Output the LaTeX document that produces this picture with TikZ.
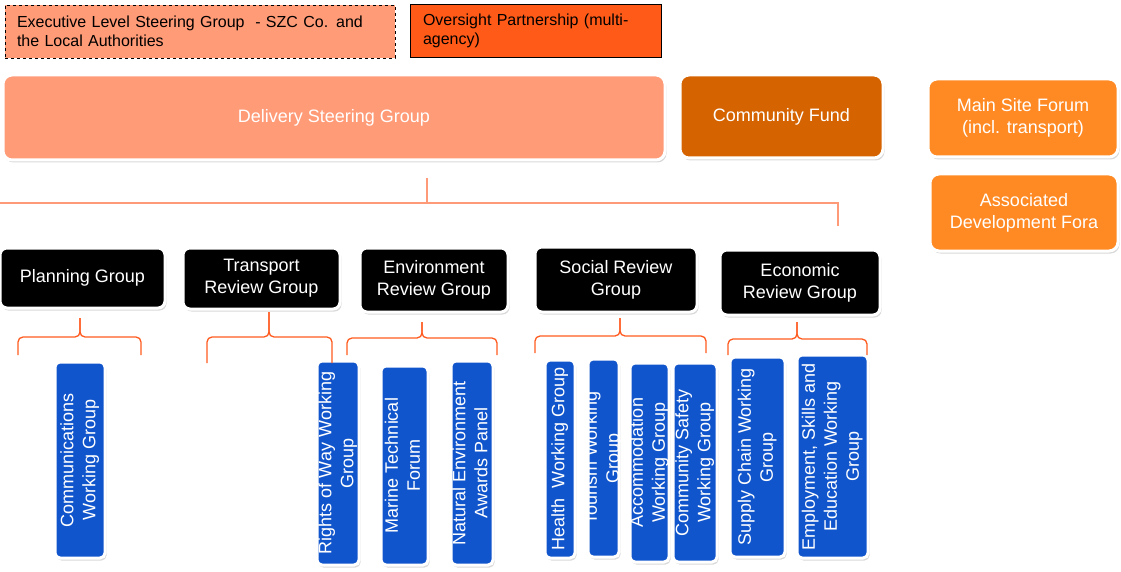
\documentclass[tikz,border=0pt]{standalone}
\usepackage{fontspec}
\setmainfont{Liberation Sans}
\usetikzlibrary{shadows}
\definecolor{salmon}{HTML}{FF9B77}
\definecolor{oversight}{HTML}{FF5A17}
\definecolor{fund}{HTML}{D46300}
\definecolor{forum}{HTML}{FF8A24}
\definecolor{wgblue}{HTML}{1155CC}
\definecolor{bracered}{HTML}{FF5A1F}
\definecolor{busline}{HTML}{FF9A78}
\newcommand{\vtext}[1]{\makebox[0pt]{\rotatebox{90}{\begin{tabular}{@{}c@{}}#1\end{tabular}}}}
\newcommand{\mybrace}[7]{%
  \coordinate (#1L) at (#2,#7);
  \coordinate (#1R) at (#3,#7);
  \coordinate (#1M) at (#4,#5);
  \coordinate (#1T) at (#4,#6);
  \draw[bracestyle] (#1L) |- (#1M) -- (#1T);
  \draw[bracestyle] (#1R) |- (#1M) -- (#1T);}
\begin{document}
\begin{tikzpicture}[x=1pt,y=-1pt,
  txt/.style={font=\fontsize{18}{22}\selectfont, text=white, align=center, inner sep=0pt},
  shadowed/.style={draw=white, line width=3pt, drop shadow={shadow xshift=1.5pt, shadow yshift=-2.5pt, opacity=0.3}},
  bigbox/.style={txt, shadowed, rounded corners=9pt},
  blackbox/.style={txt, shadowed, fill=black, rounded corners=7pt},
  wgbox/.style={txt, shadowed, fill=wgblue, rounded corners=5pt},
  legendbox/.style={font=\fontsize{16}{19}\selectfont, text=black, align=left, inner sep=0pt, line width=0.8pt},
  bracestyle/.style={draw=bracered, line width=1.3pt, rounded corners=5pt},
  busstyle/.style={draw=busline, line width=1.6pt}
]
\useasboundingbox (0,0) rectangle (1121,572);

% legend
\node[legendbox, draw=black, dashed, fill=salmon, minimum width=390pt, minimum height=53pt, text width=366pt] (leg1) at (200,31.5)
  {Executive Level Steering Group\ \ - SZC Co. and\\the Local Authorities};
\node[legendbox, draw=black, fill=oversight, minimum width=251pt, minimum height=53pt, text width=225pt] (leg2) at (535.5,30.5)
  {Oversight Partnership (multi-\\agency)};

% top row
\node[bigbox, fill=salmon, minimum width=662pt, minimum height=85pt] (dsg) at (334,117.5) {Delivery Steering Group};
\node[bigbox, fill=fund, minimum width=203pt, minimum height=83pt] (cf) at (781.5,116.5) {Community Fund};
\node[bigbox, fill=forum, minimum width=190pt, minimum height=78pt] (msf) at (1023,118) {Main Site Forum\\(incl. transport)};
\node[bigbox, fill=forum, minimum width=188pt, minimum height=77pt] (adf) at (1024,212.5) {Associated\\Development Fora};

% bus connector
\coordinate (dsgfoot) at (427,178);
\coordinate (busmid) at (427,203);
\coordinate (busL) at (0,203);
\coordinate (busR) at (838,203);
\coordinate (busend) at (838,226);
\draw[busstyle] (dsgfoot) -- (busmid);
\draw[busstyle] (busL) -- (busR) -- (busend);

% review groups
\node[blackbox, minimum width=165pt, minimum height=60pt] (pg) at (82.5,278) {Planning Group};
\node[blackbox, minimum width=157pt, minimum height=61pt] (trg) at (261.5,278.5) {Transport\\Review Group};
\node[blackbox, minimum width=148pt, minimum height=64pt] (erg) at (434,280) {Environment\\Review Group};
\node[blackbox, minimum width=162pt, minimum height=65pt] (srg) at (616,279.5) {Social Review\\Group};
\node[blackbox, minimum width=160pt, minimum height=65pt] (ecrg) at (800,282.5) {Economic\\Review Group};

% working groups
\node[wgbox, minimum width=50pt, minimum height=196pt] (com) at (80,460) {\vtext{Communications\\Working Group}};
\node[wgbox, minimum width=42pt, minimum height=204pt] (row) at (338,463) {\vtext{Rights of Way Working\\Group}};
\node[wgbox, minimum width=47pt, minimum height=199pt] (mtf) at (404.5,465.5) {\vtext{Marine Technical\\Forum}};
\node[wgbox, minimum width=42pt, minimum height=204pt] (neap) at (472,463) {\vtext{Natural Environment\\Awards Panel}};
\node[wgbox, minimum width=30pt, minimum height=198pt] (hwg) at (560,459) {\vtext{Health\ \ Working Group}};
\node[wgbox, minimum width=31pt, minimum height=198pt] (twg) at (603.5,458) {\vtext{Tourism Working\\Group}};
\node[wgbox, minimum width=39pt, minimum height=199pt] (awg) at (649.5,462.5) {\vtext{Accommodation\\Working Group}};
\node[wgbox, minimum width=44pt, minimum height=199pt] (cswg) at (695,462.5) {\vtext{Community Safety\\Working Group}};
\node[wgbox, minimum width=55pt, minimum height=200pt] (scwg) at (757.5,457) {\vtext{Supply Chain Working\\Group}};
\node[wgbox, minimum width=71pt, minimum height=203pt] (esewg) at (832.5,456.5) {\vtext{Employment, Skills and\\Education Working\\Group}};

% braces
\mybrace{pgb}{18}{141}{80}{337}{318}{355}
\mybrace{trb}{207}{332}{269}{337}{312}{363}
\mybrace{erb}{347}{497}{422}{338}{322}{355}
\mybrace{srb}{535}{706}{620}{336}{318}{353}
\mybrace{ecb}{728}{867}{797}{339}{322}{355}
\end{tikzpicture}
\end{document}
